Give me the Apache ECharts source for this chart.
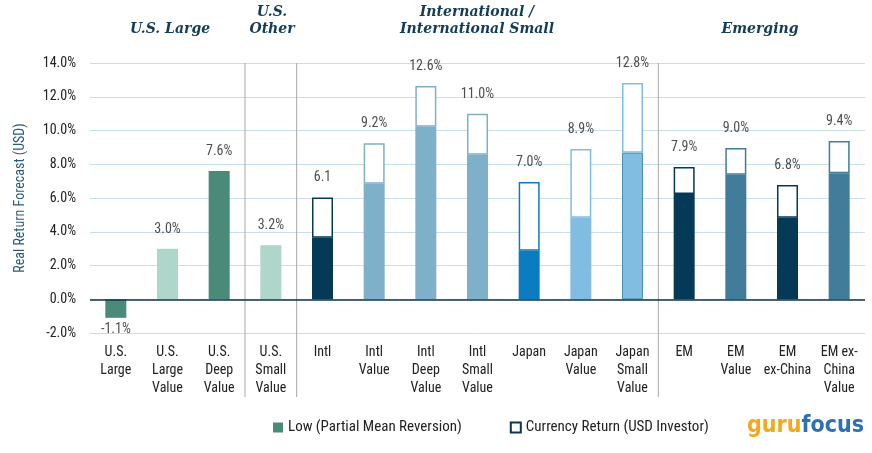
<!DOCTYPE html>
<html><head><meta charset="utf-8">
<script src="https://cdn.jsdelivr.net/npm/echarts@6/dist/echarts.min.js"></script>
<style>html,body{margin:0;padding:0;background:#fff}#c{width:872px;height:453px}</style>
</head><body><div id="c"></div>
<script>
const categories = ['U.S.\nLarge','U.S.\nLarge\nValue','U.S.\nDeep\nValue','U.S.\nSmall\nValue','Intl','Intl\nValue','Intl\nDeep\nValue','Intl\nSmall\nValue','Japan','Japan\nValue','Japan\nSmall\nValue','EM','EM\nValue','EM\nex-China','EM ex-\nChina\nValue'];
const lowValues = [-1.1, 3.0, 7.6, 3.2, 3.65, 6.85, 10.22, 8.56, 2.87, 4.83, 8.68, 6.24, 7.38, 4.83, 7.46];
const currencyValues = [0, 0, 0, 0, 2.38, 2.4, 2.42, 2.44, 4.08, 4.07, 4.14, 1.6, 1.58, 1.94, 1.92];
const totalLabels = ['-1.1%','3.0%','7.6%','3.2%','6.1','9.2%','12.6%','11.0%','7.0%','8.9%','12.8%','7.9%','9.0%','6.8%','9.4%'];
const barColors = ['#4a8a78','#aed6cb','#4a8a78','#aed6cb','#043a56','#7fb0c9','#7fb0c9','#7fb0c9','#0a7cbf','#80bde0','#80bde0','#043a56','#417d9a','#043a56','#417d9a'];
const yTicks = [-2, 0, 2, 4, 6, 8, 10, 12, 14];
const groupBreaks = [3, 4, 11]; // separator before these category indices
const headers = [
  {text: 'U.S. Large', x: 170, y: 29},
  {text: 'U.S.\nOther', x: 272, y: 21},
  {text: 'International /\nInternational Small', x: 477, y: 21},
  {text: 'Emerging', x: 760, y: 29}
];

const FONT = '"Roboto Condensed","Liberation Sans Narrow","DejaVu Sans Condensed","Roboto",sans-serif';
const chart = echarts.init(document.getElementById('c'));
const totals = lowValues.map((v, i) => +(v + currencyValues[i]).toFixed(2));

const option = {
  animation: false,
  grid: {left: 90, right: 7, top: 63, bottom: 120, containLabel: false},
  xAxis: {
    type: 'category', data: categories,
    axisLine: {show: false}, axisTick: {show: false},
    axisLabel: {fontFamily: FONT, fontSize: 14, color: '#222', lineHeight: 18, margin: 10, verticalAlign: 'top', interval: 0}
  },
  yAxis: {
    type: 'value', min: yTicks[0], max: yTicks[yTicks.length - 1], interval: 2,
    name: 'Real Return Forecast (USD)', nameLocation: 'middle', nameGap: 63,
    nameTextStyle: {fontFamily: FONT, fontSize: 14, color: '#2b5b7c'},
    axisLine: {show: false}, axisTick: {show: false},
    axisLabel: {fontFamily: FONT, fontSize: 14, color: '#222', margin: 14, formatter: v => v.toFixed(1) + '%'},
    splitLine: {lineStyle: {color: '#c8dfe9', width: 1}}
  },
  legend: {
    bottom: 13, left: 268, itemGap: 48, itemWidth: 10, itemHeight: 10,
    textStyle: {fontFamily: FONT, fontSize: 15, color: '#222'},
    data: [
      {name: 'Low (Partial Mean Reversion)', icon: 'rect', itemStyle: {color: '#4a8a78', borderWidth: 0}},
      {name: 'Currency Return (USD Investor)', icon: 'rect', itemStyle: {color: '#fff', borderColor: '#0c3550', borderWidth: 2}}
    ]
  },
  series: [
    {
      name: 'Low (Partial Mean Reversion)', type: 'bar', stack: 'a', barWidth: 21,
      itemStyle: {color: '#4a8a78'},
      data: lowValues.map((v, i) => ({value: v, itemStyle: {color: barColors[i], borderColor: i === 10 ? '#4a90b8' : barColors[i], borderWidth: i === 10 ? 1 : 0}}))
    },
    {
      name: 'Currency Return (USD Investor)', type: 'bar', stack: 'a', barWidth: 21,
      itemStyle: {color: '#fff', borderColor: '#0c3550', borderWidth: 1.5},
      data: currencyValues.map((v, i) => ({value: v, itemStyle: {color: '#fff', borderColor: barColors[i], borderWidth: v ? 1.5 : 0}}))
    },
    {
      name: 'labels', type: 'scatter', symbolSize: 1, itemStyle: {color: 'rgba(0,0,0,0)'}, silent: true, z: 5,
      data: totals.map((v, i) => ({
        value: v,
        label: {show: true, formatter: totalLabels[i], position: v < 0 ? 'bottom' : 'top', distance: v < 0 ? 4 : 12,
          fontFamily: FONT, fontSize: 14, color: '#222'}
      }))
    },
    {
      type: 'line', silent: true, symbol: 'none', data: [],
      markLine: {silent: true, symbol: 'none', label: {show: false},
        lineStyle: {color: '#0c3550', width: 1.5, type: 'solid'}, data: [{yAxis: 0}]}
    }
  ]
};
chart.setOption(option);

const g = [];
const plotTop = chart.convertToPixel({yAxisIndex: 0}, yTicks[yTicks.length - 1]);
groupBreaks.forEach(idx => {
  const x = (chart.convertToPixel({xAxisIndex: 0}, idx - 1) + chart.convertToPixel({xAxisIndex: 0}, idx)) / 2;
  g.push({type: 'line', silent: true, shape: {x1: x, y1: plotTop, x2: x, y2: 397}, style: {stroke: '#a8a8a8', lineWidth: 1}, z: 1});
});
headers.forEach(h => {
  g.push({type: 'text', x: h.x, y: h.y, style: {text: h.text, font: 'italic bold 14px "DejaVu Serif", serif', fill: '#123c5a', align: 'center', verticalAlign: 'middle', lineHeight: 17}});
});
g.push({type: 'text', x: 864, y: 426, style: {
  text: '{a|guru}{b|focus}', align: 'right', verticalAlign: 'middle',
  rich: {a: {font: 'bold 23px "DejaVu Sans Condensed","Roboto",sans-serif', fill: '#f6a81a'}, b: {font: 'bold 23px "DejaVu Sans Condensed","Roboto",sans-serif', fill: '#2f6fb8'}}
}});
chart.setOption({graphic: g});
</script>
</body></html>
